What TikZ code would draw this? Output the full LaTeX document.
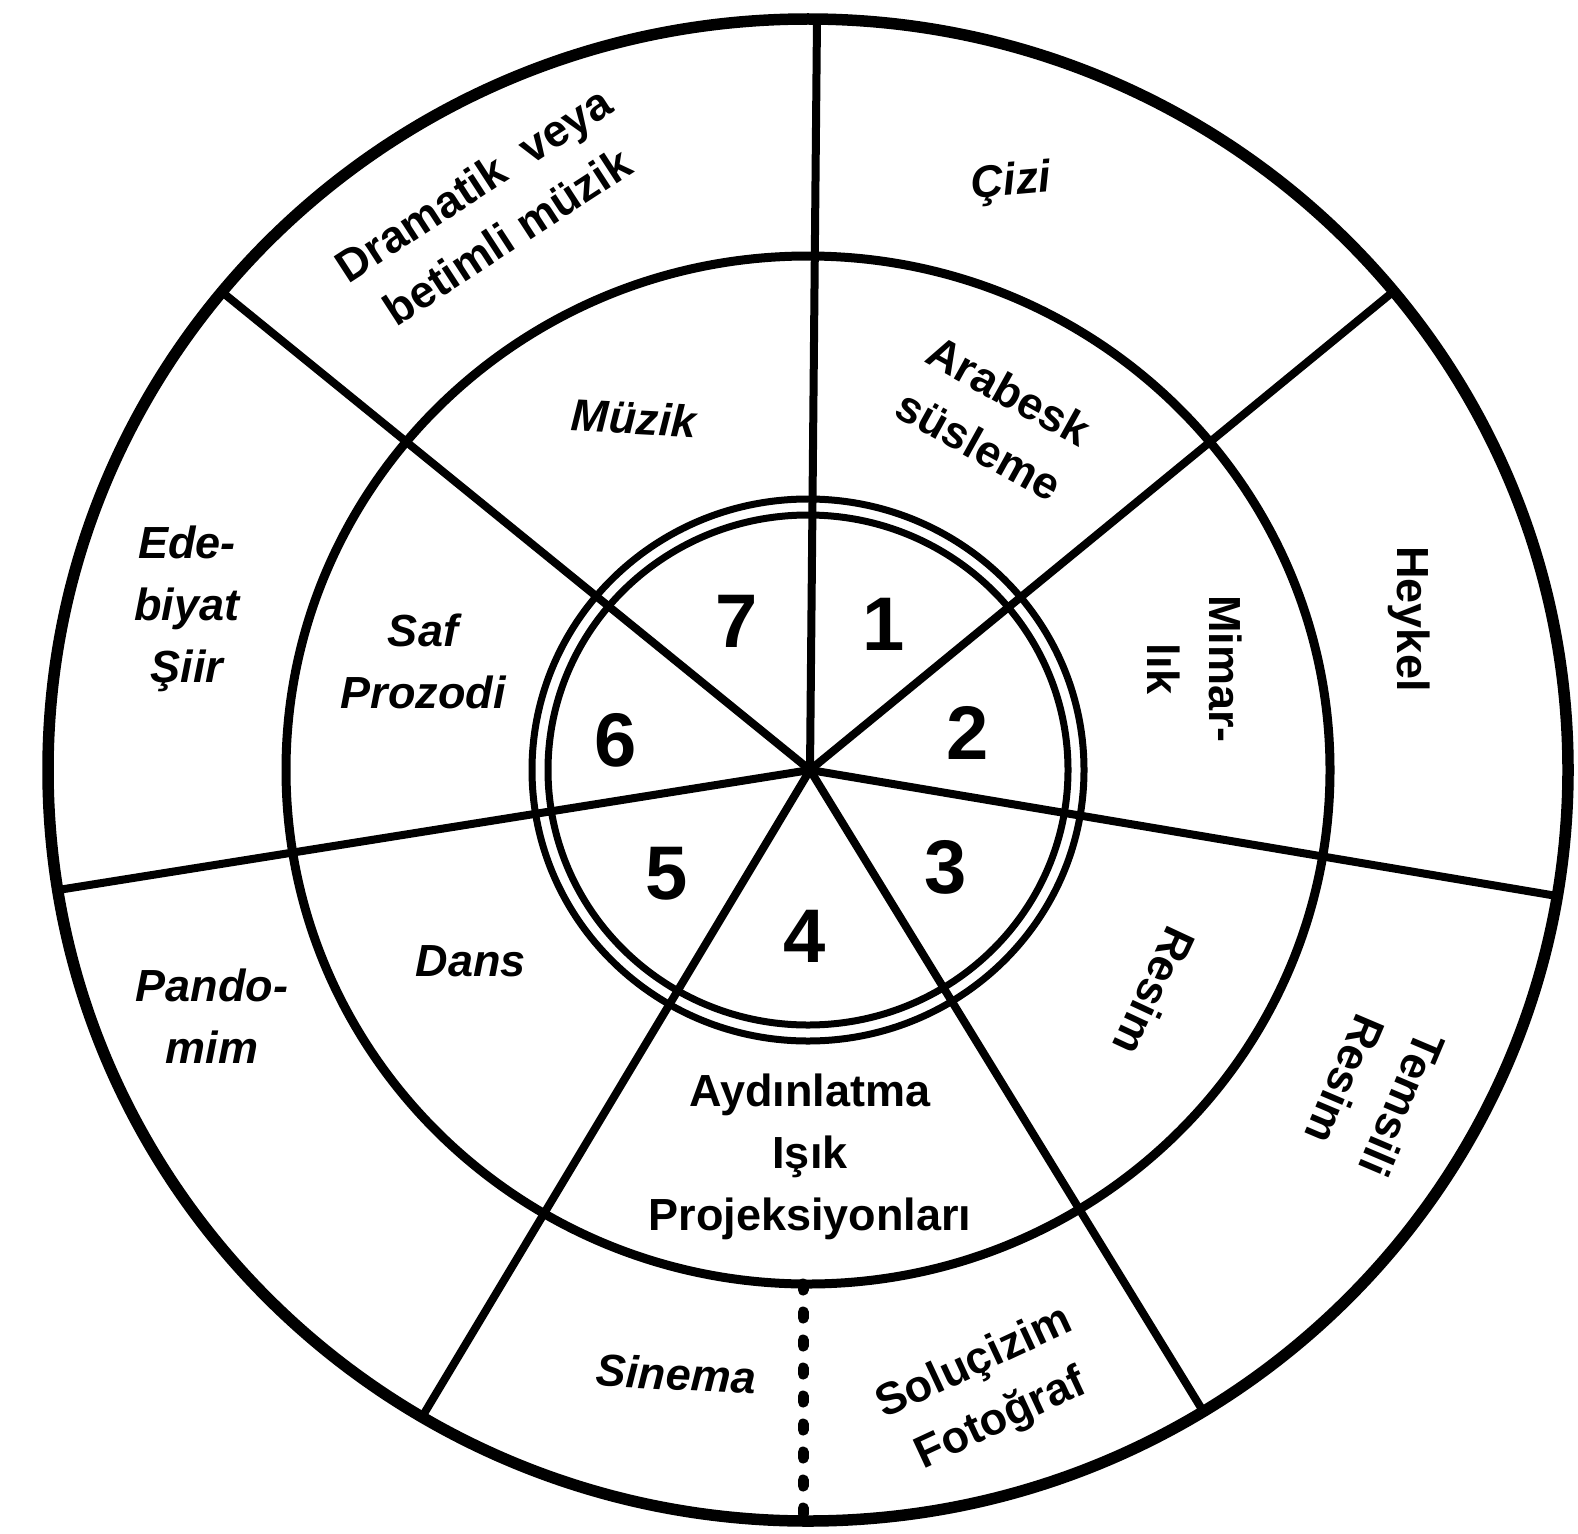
\documentclass[tikz,border=0pt]{standalone}
\usepackage{fontspec}
\setmainfont{Liberation Sans}
\begin{document}
\begin{tikzpicture}[x=1pt,y=-1pt,
  ring/.style={line width=11.5pt},
  midring/.style={line width=9pt},
  dring/.style={line width=7pt},
  spoke/.style={line width=8pt},
  dotline/.style={line width=11pt, line cap=round, dash pattern=on 6pt off 22pt},
  lab/.style={font=\fontsize{45}{62}\selectfont\bfseries\itshape, align=center, inner sep=0pt},
  labu/.style={font=\fontsize{45}{62}\selectfont\bfseries, align=center, inner sep=0pt},
  num/.style={font=\fontsize{76}{76}\selectfont\bfseries, inner sep=0pt}]
\useasboundingbox (0,0) rectangle (1578,1533);
\fill[white] (0,0) rectangle (1578,1533);
\coordinate (O) at (808,770);
\coordinate (H) at (810,770);
\coordinate (e0) at (817,19);
\coordinate (e1) at (1394,291);
\coordinate (e2) at (1557,896);
\coordinate (e3) at (1203,1411);
\coordinate (e4) at (422,1417);
\coordinate (e5) at (58,890);
\coordinate (e6) at (222,292);
\coordinate (dtop) at (803,1284);
\coordinate (dbot) at (803,1518);
% spokes
\foreach \e in {e0,e1,e2,e3,e4,e5,e6}
  \draw[spoke] (H) -- (\e);
% circles
\draw[ring] (O) ellipse [x radius=760, y radius=751];
\draw[midring] (O) ellipse [x radius=522, y radius=514];
\draw[dring] (O) ellipse [x radius=276, y radius=271];
\draw[dring] (O) ellipse [x radius=260, y radius=255];
% dotted divider
\draw[dotline] (dtop) -- (dbot);
% numbers
\node[num] (n1) at (884,624) {1};
\node[num] (n2) at (968,733) {2};
\node[num] (n3) at (946,867) {3};
\node[num] (n4) at (805,936) {4};
\node[num] (n5) at (667,874) {5};
\node[num] (n6) at (616,740) {6};
\node[num] (n7) at (737,621) {7};
% middle ring
\node[lab, rotate=-3] (muzik) at (634,418) {Müzik};
\node[labu, rotate=-29] (arab) at (994,418) {Arabesk\\süsleme};
\node[labu, rotate=-90] (mimar) at (1195,669) {Mimar-\\lık};
\node[labu, rotate=-115] (resim) at (1155,991) {Resim};
\node[labu] (aydin) at (810,1157) {Aydınlatma\\Işık\\Projeksiyonları};
\node[lab] (dans) at (471,961) {Dans};
\node[lab] (saf) at (423,661) {Saf\\Prozodi};
% outer ring
\node[labu, rotate=33] (dram) at (490,210) {Dramatik\ \ veya\\betimli müzik};
\node[lab, rotate=5] (cizi) at (1011,183) {Çizi};
\node[labu, rotate=-90] (heykel) at (1409,619) {Heykel};
\node[labu, rotate=-113] (temsili) at (1374,1092) {Temsili\\Resim};
\node[labu, rotate=25] (solu) at (988,1392) {Soluçizim\\Fotoğraf};
\node[lab, rotate=-3] (sinema) at (676,1374) {Sinema};
\node[lab] (pando) at (212,1016) {Pando-\\mim};
\node[lab] (edeb) at (187,609) {Ede-\\biyat\\Şiir};
\end{tikzpicture}
\end{document}
